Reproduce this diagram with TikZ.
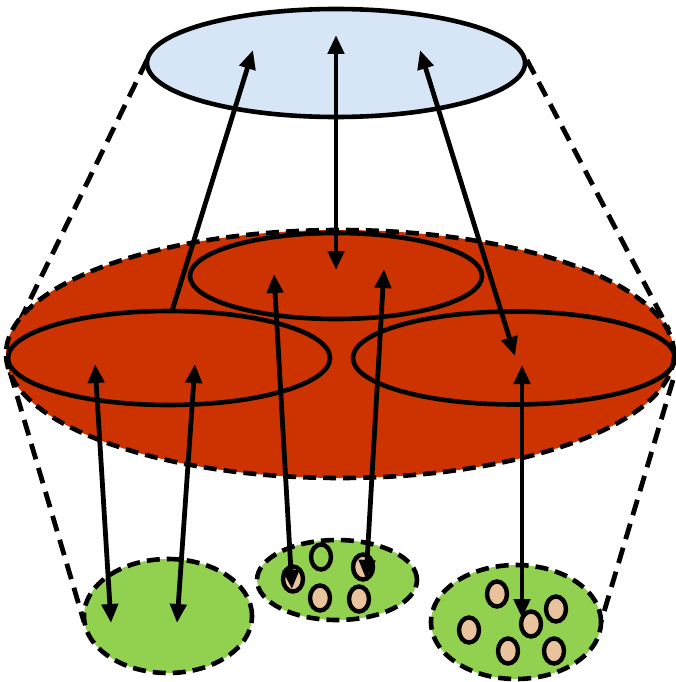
\documentclass[tikz,border=0pt]{standalone}
\usetikzlibrary{shapes.geometric,arrows.meta}
\definecolor{skyfill}{HTML}{D6E6F7}
\definecolor{brick}{HTML}{CC3300}
\definecolor{leaf}{HTML}{92D050}
\definecolor{tan}{HTML}{E8C39E}
\begin{document}
\begin{tikzpicture}[x=1pt,y=-1pt,
  oval/.style={ellipse,inner sep=0pt,line width=4.6pt,draw=black},
  dashoval/.style={oval,dash pattern=on 13pt off 7pt},
  grain/.style={ellipse,inner sep=0pt,line width=4.4pt,draw=black,fill=tan,minimum width=20pt,minimum height=25pt},
  guide/.style={line width=4.8pt,dash pattern=on 16pt off 9pt},
  link/.style={line width=4.8pt,-{Triangle[length=19pt,width=16pt]}},
  dlink/.style={line width=4.8pt,{Triangle[length=19pt,width=16pt]}-{Triangle[length=19pt,width=16pt]}}]
\useasboundingbox (0,0) rectangle (675,682);
% guide lines
\coordinate (g1a) at (147,60); \coordinate (g1b) at (8,345);
\coordinate (g2a) at (10,372); \coordinate (g2b) at (84,622);
\coordinate (g3a) at (527,60); \coordinate (g3b) at (669,330);
\coordinate (g4a) at (673,380); \coordinate (g4b) at (601,622);
\draw[guide] (g1a) -- (g1b);
\draw[guide] (g2a) -- (g2b);
\draw[guide] (g3a) -- (g3b);
\draw[guide] (g4a) -- (g4b);
% ellipses
\node[oval,fill=skyfill,minimum width=378pt,minimum height=108pt] (top) at (336,63) {};
\node[dashoval,fill=brick,minimum width=668pt,minimum height=248pt] (big) at (340,354) {};
\node[oval,minimum width=292pt,minimum height=86pt] (im) at (336,276) {};
\node[oval,minimum width=322pt,minimum height=94pt] (il) at (169,358) {};
\node[oval,minimum width=322pt,minimum height=93pt] (ir) at (514,358) {};
\node[dashoval,fill=leaf,minimum width=168pt,minimum height=114pt] (gl) at (168,616) {};
\node[dashoval,fill=leaf,minimum width=160pt,minimum height=80pt] (gm) at (337,580) {};
\node[dashoval,fill=leaf,minimum width=170pt,minimum height=114pt] (gr) at (516,622) {};
% grains
\node[grain] (m1) at (293,579) {};
\node[grain,fill=leaf] (m2) at (321,557) {};
\node[grain] (m3) at (363,567) {};
\node[grain] (m4) at (320,598) {};
\node[grain] (m5) at (359,599) {};
\node[grain] (r1) at (497,594) {};
\node[grain] (r2) at (556,609) {};
\node[grain] (r3) at (469,630) {};
\node[grain] (r4) at (531,624) {};
\node[grain] (r5) at (508,651) {};
\node[grain] (r6) at (554,651) {};
% arrows
\coordinate (a1s) at (172,311); \coordinate (a1e) at (253,50);
\coordinate (a2s) at (336,35); \coordinate (a2e) at (336,270);
\coordinate (a3s) at (420,50); \coordinate (a3e) at (515,356);
\coordinate (b1s) at (95,364); \coordinate (b1e) at (111,623);
\coordinate (b2s) at (195,364); \coordinate (b2e) at (177,623);
\coordinate (b3s) at (274,274); \coordinate (b3e) at (292,589);
\coordinate (b4s) at (384,269); \coordinate (b4e) at (366,579);
\coordinate (b5s) at (522,365); \coordinate (b5e) at (522,618);
\draw[link] (a1s) -- (a1e);
\draw[dlink] (a2s) -- (a2e);
\draw[dlink] (a3s) -- (a3e);
\draw[dlink] (b1s) -- (b1e);
\draw[dlink] (b2s) -- (b2e);
\draw[dlink] (b3s) -- (b3e);
\draw[dlink] (b4s) -- (b4e);
\draw[dlink] (b5s) -- (b5e);
\end{tikzpicture}
\end{document}
